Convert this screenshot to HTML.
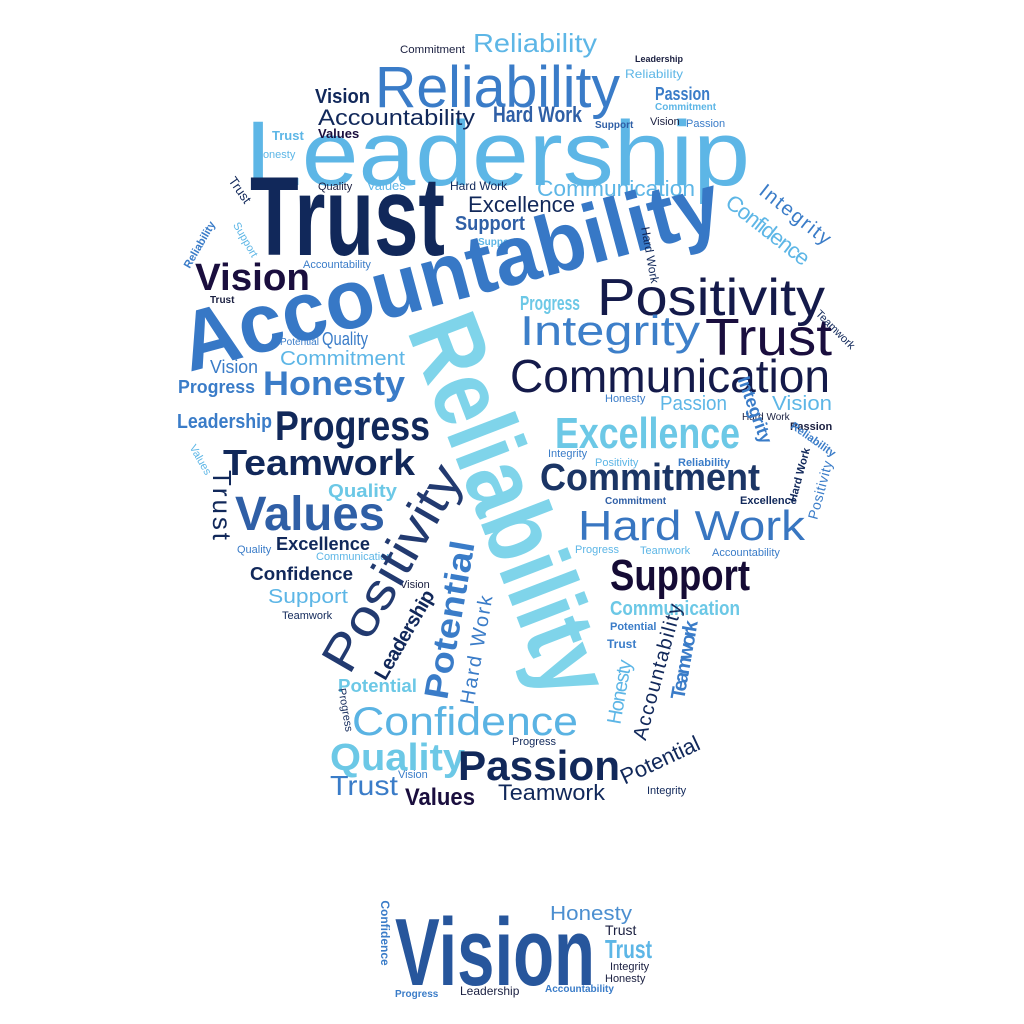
<!DOCTYPE html>
<html><head><meta charset="utf-8"><style>
html,body{margin:0;padding:0;background:#fff;}
svg{display:block;font-family:"Liberation Sans",sans-serif;}
.b{font-weight:bold;}
</style></head><body>
<svg width="1024" height="1024" viewBox="0 0 1024 1024" xmlns="http://www.w3.org/2000/svg">
<g lengthAdjust="spacingAndGlyphs">
<text x="245" y="185" font-size="92" fill="#5db6e6" textLength="505" lengthAdjust="spacingAndGlyphs">Leadership</text>
<text class="b" x="250" y="255" font-size="112" fill="#11285a" textLength="195" lengthAdjust="spacingAndGlyphs">Trust</text>
<text x="375" y="107" font-size="58" fill="#3a7cc8" textLength="245" lengthAdjust="spacingAndGlyphs">Reliability</text>
<text x="473" y="52" font-size="26" fill="#5db6e6" textLength="124" lengthAdjust="spacingAndGlyphs">Reliability</text>
<text x="400" y="53" font-size="11" fill="#1a1f40" textLength="65" lengthAdjust="spacingAndGlyphs">Commitment</text>
<text class="b" x="635" y="62" font-size="9" fill="#1a1f40">Leadership</text>
<text x="625" y="78" font-size="12" fill="#5db6e6" textLength="58" lengthAdjust="spacingAndGlyphs">Reliability</text>
<text class="b" x="655" y="100" font-size="18" fill="#3a7cc8" textLength="55" lengthAdjust="spacingAndGlyphs">Passion</text>
<text class="b" x="315" y="103" font-size="20" fill="#11285a" textLength="55" lengthAdjust="spacingAndGlyphs">Vision</text>
<text x="318" y="125" font-size="22" fill="#11285a" textLength="157" lengthAdjust="spacingAndGlyphs">Accountability</text>
<text class="b" x="493" y="122" font-size="22" fill="#2f5fa6" textLength="89" lengthAdjust="spacingAndGlyphs">Hard Work</text>
<text class="b" x="655" y="110" font-size="10" fill="#5db6e6">Commitment</text>
<text x="650" y="125" font-size="11" fill="#1a1f40">Vision</text>
<text x="686" y="127" font-size="11" fill="#3a7cc8">Passion</text>
<text class="b" x="318" y="138" font-size="13" fill="#1a0e3e">Values</text>
<text class="b" x="272" y="140" font-size="13" fill="#5db6e6">Trust</text>
<text x="255" y="158" font-size="11" fill="#5db6e6">Honesty</text>
<text class="b" x="595" y="128" font-size="10" fill="#2f5fa6">Support</text>
<text x="537" y="196" font-size="22" fill="#5db6e6" textLength="158" lengthAdjust="spacingAndGlyphs">Communication</text>
<text x="468" y="212" font-size="22" fill="#11285a" textLength="107" lengthAdjust="spacingAndGlyphs">Excellence</text>
<text class="b" x="455" y="230" font-size="20" fill="#2f5fa6" textLength="70" lengthAdjust="spacingAndGlyphs">Support</text>
<text x="318" y="190" font-size="11" fill="#1a1f40">Quality</text>
<text x="367" y="190" font-size="13" fill="#5db6e6">Values</text>
<text x="450" y="190" font-size="12" fill="#11285a">Hard Work</text>
<text class="b" x="478" y="245" font-size="10" fill="#5db6e6">Support</text>
<text x="597" y="315" font-size="52" fill="#141a4a" textLength="228" lengthAdjust="spacingAndGlyphs">Positivity</text>
<text x="705" y="355" font-size="52" fill="#1a0e3e" textLength="127" lengthAdjust="spacingAndGlyphs">Trust</text>
<text x="520" y="345" font-size="42" fill="#3d7fc9" textLength="180" lengthAdjust="spacingAndGlyphs">Integrity</text>
<text x="510" y="392" font-size="46" fill="#141a4a" textLength="320" lengthAdjust="spacingAndGlyphs">Communication</text>
<text class="b" x="555" y="448" font-size="44" fill="#6cc8e6" textLength="185" lengthAdjust="spacingAndGlyphs">Excellence</text>
<text class="b" x="540" y="490" font-size="38" fill="#1b3565" textLength="220" lengthAdjust="spacingAndGlyphs">Commitment</text>
<text x="578" y="540" font-size="42" fill="#3876c1" textLength="227" lengthAdjust="spacingAndGlyphs">Hard Work</text>
<text class="b" x="610" y="590" font-size="44" fill="#150b35" textLength="140" lengthAdjust="spacingAndGlyphs">Support</text>
<text class="b" x="610" y="615" font-size="20" fill="#6cc8e6" textLength="130" lengthAdjust="spacingAndGlyphs">Communication</text>
<text class="b" x="520" y="310" font-size="20" fill="#6cc8e6" textLength="60" lengthAdjust="spacingAndGlyphs">Progress</text>
<text class="b" x="195" y="290" font-size="38" fill="#1a0e3e" textLength="115" lengthAdjust="spacingAndGlyphs">Vision</text>
<text class="b" x="263" y="395" font-size="34" fill="#3a7cc8" textLength="142" lengthAdjust="spacingAndGlyphs">Honesty</text>
<text class="b" x="275" y="440" font-size="42" fill="#11285a" textLength="155" lengthAdjust="spacingAndGlyphs">Progress</text>
<text class="b" x="223" y="475" font-size="36" fill="#11285a" textLength="192" lengthAdjust="spacingAndGlyphs">Teamwork</text>
<text class="b" x="235" y="530" font-size="48" fill="#2f5fa6" textLength="150" lengthAdjust="spacingAndGlyphs">Values</text>
<text x="322" y="345" font-size="18" fill="#3a7cc8" textLength="46" lengthAdjust="spacingAndGlyphs">Quality</text>
<text x="280" y="365" font-size="20" fill="#5db6e6" textLength="125" lengthAdjust="spacingAndGlyphs">Commitment</text>
<text x="210" y="373" font-size="18" fill="#3a7cc8" textLength="48" lengthAdjust="spacingAndGlyphs">Vision</text>
<text class="b" x="178" y="393" font-size="18" fill="#3a7cc8" textLength="77" lengthAdjust="spacingAndGlyphs">Progress</text>
<text class="b" x="177" y="428" font-size="20" fill="#3a7cc8" textLength="95" lengthAdjust="spacingAndGlyphs">Leadership</text>
<text x="660" y="410" font-size="20" fill="#5db6e6" textLength="67" lengthAdjust="spacingAndGlyphs">Passion</text>
<text x="772" y="410" font-size="20" fill="#5db6e6" textLength="60" lengthAdjust="spacingAndGlyphs">Vision</text>
<text x="303" y="268" font-size="11" fill="#3a7cc8">Accountability</text>
<text x="210" y="303" font-size="10" fill="#1a1f40" class="b">Trust</text>
<text x="280" y="345" font-size="10" fill="#3a7cc8">Potential</text>
<text x="605" y="402" font-size="11" fill="#3a7cc8">Honesty</text>
<text x="548" y="457" font-size="11" fill="#3a7cc8">Integrity</text>
<text x="595" y="466" font-size="11" fill="#5db6e6">Positivity</text>
<text class="b" x="678" y="466" font-size="11" fill="#3a7cc8">Reliability</text>
<text class="b" x="605" y="504" font-size="10" fill="#2f5fa6">Commitment</text>
<text class="b" x="740" y="504" font-size="11" fill="#11285a">Excellence</text>
<text x="742" y="420" font-size="10" fill="#1a1f40">Hard Work</text>
<text class="b" x="790" y="430" font-size="11" fill="#1a1f40">Passion</text>
<text x="712" y="556" font-size="11" fill="#3a7cc8">Accountability</text>
<text x="640" y="554" font-size="11" fill="#5db6e6">Teamwork</text>
<text x="575" y="553" font-size="11" fill="#5db6e6">Progress</text>
<text class="b" x="276" y="550" font-size="18" fill="#11285a" textLength="94" lengthAdjust="spacingAndGlyphs">Excellence</text>
<text class="b" x="328" y="497" font-size="18" fill="#6cc8e6" textLength="69" lengthAdjust="spacingAndGlyphs">Quality</text>
<text x="316" y="560" font-size="11" fill="#5db6e6">Communication</text>
<text class="b" x="250" y="580" font-size="18" fill="#11285a" textLength="103" lengthAdjust="spacingAndGlyphs">Confidence</text>
<text x="237" y="553" font-size="11" fill="#3a7cc8">Quality</text>
<text x="268" y="603" font-size="20" fill="#5db6e6" textLength="80" lengthAdjust="spacingAndGlyphs">Support</text>
<text x="282" y="619" font-size="11" fill="#11285a">Teamwork</text>
<text x="400" y="588" font-size="11" fill="#1a1f40">Vision</text>
<text class="b" x="338" y="692" font-size="18" fill="#6cc8e6" textLength="79" lengthAdjust="spacingAndGlyphs">Potential</text>
<text x="352" y="735" font-size="40" fill="#5ab3e3" textLength="226" lengthAdjust="spacingAndGlyphs">Confidence</text>
<text class="b" x="330" y="770" font-size="38" fill="#6cc8e6" textLength="135" lengthAdjust="spacingAndGlyphs">Quality</text>
<text class="b" x="458" y="780" font-size="42" fill="#11285a" textLength="162" lengthAdjust="spacingAndGlyphs">Passion</text>
<text x="330" y="795" font-size="28" fill="#3a7cc8" textLength="68" lengthAdjust="spacingAndGlyphs">Trust</text>
<text class="b" x="405" y="805" font-size="24" fill="#1a0e3e" textLength="70" lengthAdjust="spacingAndGlyphs">Values</text>
<text x="498" y="800" font-size="22" fill="#11285a" textLength="107" lengthAdjust="spacingAndGlyphs">Teamwork</text>
<text x="512" y="745" font-size="11" fill="#11285a">Progress</text>
<text x="398" y="778" font-size="11" fill="#3a7cc8">Vision</text>
<text x="647" y="794" font-size="11" fill="#11285a">Integrity</text>
<text class="b" x="610" y="630" font-size="11" fill="#3a7cc8">Potential</text>
<text class="b" x="607" y="648" font-size="12" fill="#3a7cc8">Trust</text>
<text class="b" x="395" y="985" font-size="96" fill="#27569c" textLength="200" lengthAdjust="spacingAndGlyphs">Vision</text>
<text x="550" y="920" font-size="20" fill="#4c8fd0" textLength="82" lengthAdjust="spacingAndGlyphs">Honesty</text>
<text x="605" y="935" font-size="14" fill="#1a1f40">Trust</text>
<text class="b" x="605" y="958" font-size="26" fill="#5db6e6" textLength="47" lengthAdjust="spacingAndGlyphs">Trust</text>
<text x="610" y="970" font-size="11" fill="#1a1f40">Integrity</text>
<text x="605" y="982" font-size="11" fill="#1a1f40">Honesty</text>
<text x="460" y="995" font-size="12" fill="#1a1f40">Leadership</text>
<text class="b" x="395" y="997" font-size="10" fill="#3a7cc8">Progress</text>
<text class="b" x="545" y="992" font-size="10" fill="#3a7cc8">Accountability</text>
</g>
<g>
<text class="b" transform="translate(510,505) rotate(69)" text-anchor="middle" dominant-baseline="central" font-size="100" fill="#7fd4ea" textLength="400" lengthAdjust="spacingAndGlyphs">Reliability</text>
<text transform="translate(450,272) rotate(-15)" text-anchor="middle" dominant-baseline="central" font-size="84" fill="#3778c6" class="b" textLength="555" lengthAdjust="spacingAndGlyphs">Accountability</text>
<text transform="translate(392,568) rotate(-60)" text-anchor="middle" dominant-baseline="central" font-size="50" fill="#223a70" textLength="230" lengthAdjust="spacingAndGlyphs">Positivity</text>
<text class="b" transform="translate(450,620) rotate(-80)" text-anchor="middle" dominant-baseline="central" font-size="34" fill="#3a7cc8" textLength="160" lengthAdjust="spacingAndGlyphs">Potential</text>
<text transform="translate(477,650) rotate(-80)" text-anchor="middle" dominant-baseline="central" font-size="20" fill="#3a7cc8" textLength="110">Hard Work</text>
<text class="b" transform="translate(405,635) rotate(-60)" text-anchor="middle" dominant-baseline="central" font-size="20" fill="#11285a" textLength="100">Leadership</text>
<text transform="translate(222,505) rotate(90)" text-anchor="middle" dominant-baseline="central" font-size="26" fill="#11285a" textLength="70">Trust</text>
<text transform="translate(768,230) rotate(38)" text-anchor="middle" dominant-baseline="central" font-size="22" fill="#5db6e6" textLength="100">Confidence</text>
<text transform="translate(795,215) rotate(38)" text-anchor="middle" dominant-baseline="central" font-size="20" fill="#3a7cc8" textLength="85">Integrity</text>
<text class="b" transform="translate(685,660) rotate(-80)" text-anchor="middle" dominant-baseline="central" font-size="20" fill="#3a7cc8" textLength="80">Teamwork</text>
<text transform="translate(620,692) rotate(-80)" text-anchor="middle" dominant-baseline="central" font-size="20" fill="#5db6e6" textLength="65">Honesty</text>
<text transform="translate(658,672) rotate(-75)" text-anchor="middle" dominant-baseline="central" font-size="20" fill="#11285a" textLength="140">Accountability</text>
<text transform="translate(660,760) rotate(-25)" text-anchor="middle" dominant-baseline="central" font-size="22" fill="#11285a" textLength="85">Potential</text>
<text class="b" transform="translate(755,410) rotate(70)" text-anchor="middle" dominant-baseline="central" font-size="18" fill="#3a7cc8" textLength="70">Integrity</text>
<text transform="translate(820,490) rotate(-75)" text-anchor="middle" dominant-baseline="central" font-size="14" fill="#3a7cc8" textLength="60">Positivity</text>
<text transform="translate(650,255) rotate(80)" text-anchor="middle" dominant-baseline="central" font-size="12" fill="#11285a">Hard Work</text>
<text transform="translate(240,190) rotate(55)" text-anchor="middle" dominant-baseline="central" font-size="13" fill="#11285a">Trust</text>
<text transform="translate(245,240) rotate(60)" text-anchor="middle" dominant-baseline="central" font-size="11" fill="#5db6e6">Support</text>
<text transform="translate(835,330) rotate(45)" text-anchor="middle" dominant-baseline="central" font-size="11" fill="#11285a">Teamwork</text>
<text class="b" transform="translate(813,440) rotate(35)" text-anchor="middle" dominant-baseline="central" font-size="11" fill="#3a7cc8">Reliability</text>
<text class="b" transform="translate(800,475) rotate(-75)" text-anchor="middle" dominant-baseline="central" font-size="11" fill="#11285a">Hard Work</text>
<text class="b" transform="translate(385,933) rotate(90)" text-anchor="middle" dominant-baseline="central" font-size="12" fill="#3a7cc8">Confidence</text>
<text transform="translate(200,460) rotate(60)" text-anchor="middle" dominant-baseline="central" font-size="11" fill="#5db6e6">Values</text>
<text class="b" transform="translate(200,245) rotate(-60)" text-anchor="middle" dominant-baseline="central" font-size="11" fill="#3a7cc8">Reliability</text>
<text transform="translate(345,710) rotate(80)" text-anchor="middle" dominant-baseline="central" font-size="11" fill="#11285a">Progress</text>
</g>
</svg>
</body></html>
